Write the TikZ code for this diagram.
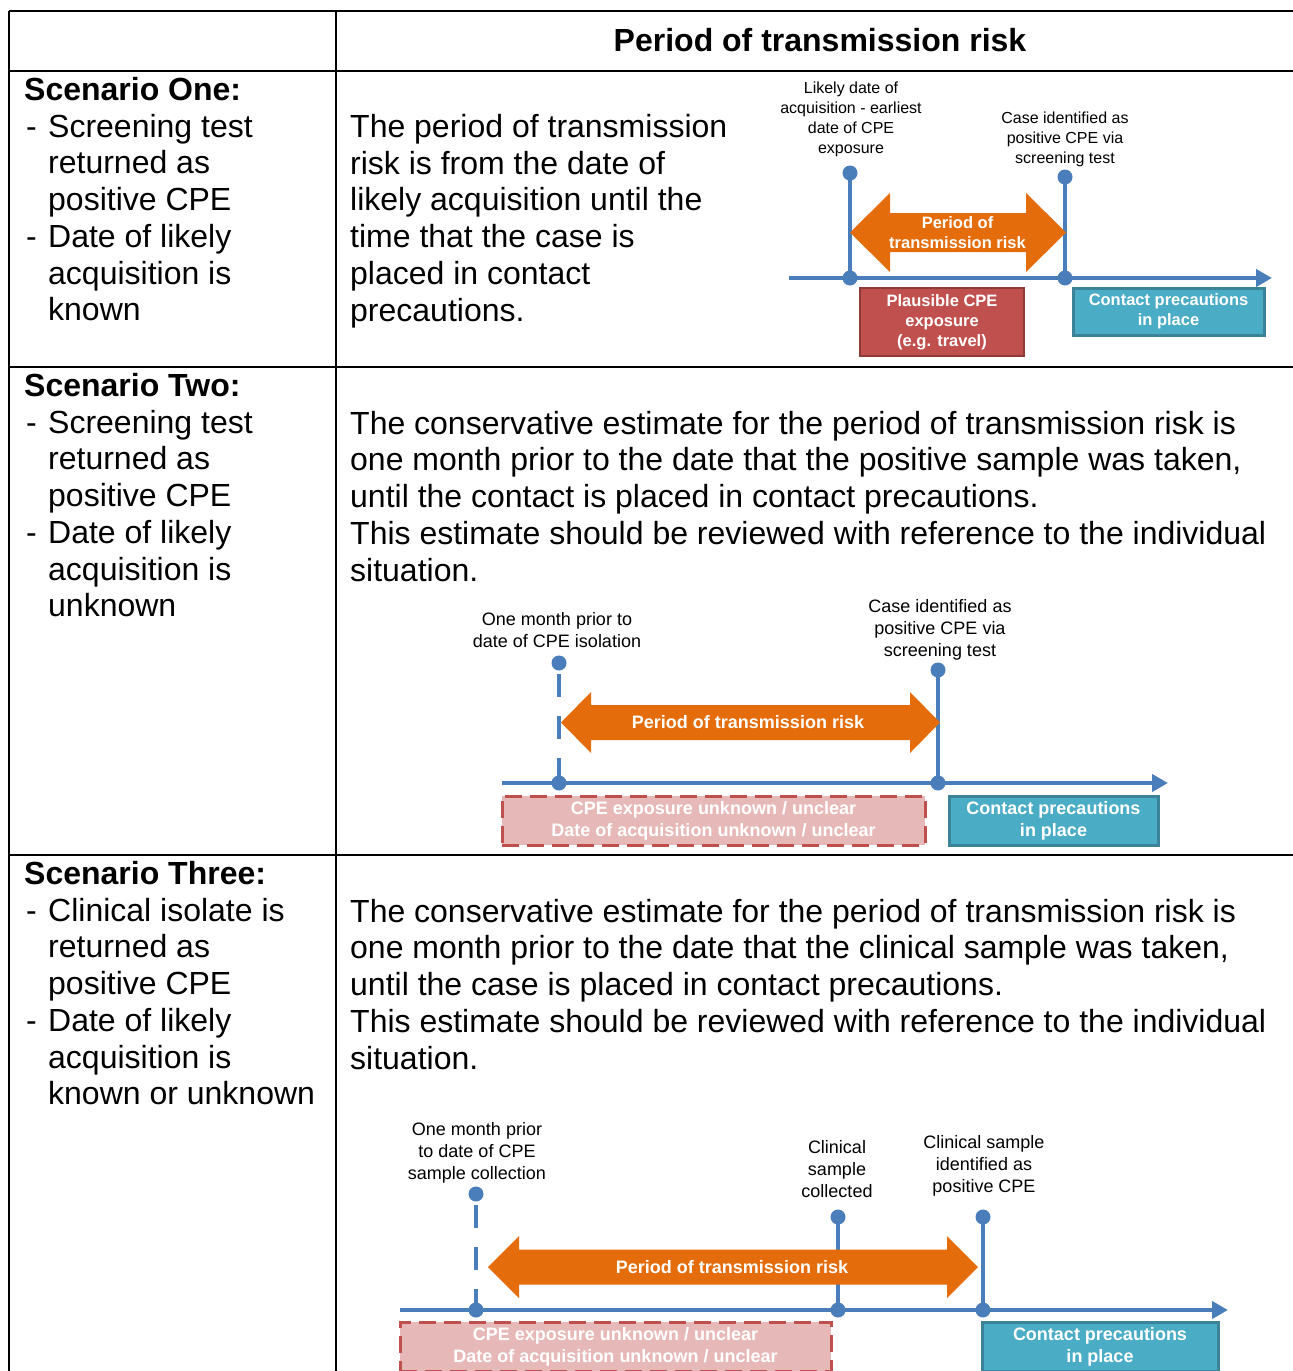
\documentclass[tikz,border=0pt]{standalone}
\usepackage{fontspec}
\setmainfont{Liberation Sans}
\usetikzlibrary{arrows.meta}
\definecolor{tl}{HTML}{4A7EBB}
\definecolor{orng}{HTML}{E46C0A}
\definecolor{redf}{HTML}{C0504D}
\definecolor{redd}{HTML}{8E3A37}
\definecolor{tealf}{HTML}{4BACC6}
\definecolor{teald}{HTML}{3A8399}
\definecolor{pinkf}{HTML}{E6B9B8}
\newcommand\dblarrow[6]{% x1 x2 yc headhalf shafthalf headlen
  \fill[orng] (#1,#3) -- (#1+#6,#3-#4) -- (#1+#6,#3-#5) -- (#2-#6,#3-#5) -- (#2-#6,#3-#4)
   -- (#2,#3) -- (#2-#6,#3+#4) -- (#2-#6,#3+#5) -- (#1+#6,#3+#5) -- (#1+#6,#3+#4) -- cycle;}
\begin{document}
\begin{tikzpicture}[x=1pt,y=-1pt,
 grid/.style={line width=2.5pt, draw=black},
 body/.style={font=\fontsize{32}{36.7}\selectfont, anchor=base west, inner sep=0pt},
 bodyb/.style={font=\fontsize{32}{36.7}\selectfont\bfseries, anchor=base west, inner sep=0pt},
 lblA/.style={font=\fontsize{16}{20}\selectfont, align=center, inner sep=0pt},
 lblB/.style={font=\fontsize{18}{22}\selectfont, align=center, inner sep=0pt},
 wA/.style={font=\fontsize{16.5}{20}\selectfont\bfseries, text=white, align=center, inner sep=0pt},
 wB/.style={font=\fontsize{18}{22}\selectfont\bfseries, text=white, align=center, inner sep=0pt},
 redbox/.style={draw=redd, fill=redf, line width=2.5pt, minimum width=164pt, minimum height=68pt},
 tealbox/.style={draw=teald, fill=tealf, line width=3pt},
 pinkbox/.style={draw=redf, fill=pinkf, line width=3pt, dash pattern=on 17pt off 8pt},
 axis/.style={line width=4.5pt, draw=tl, -{Triangle[length=16pt,width=17pt]}},
 tick/.style={line width=4pt, draw=tl},
 dtick/.style={line width=4pt, draw=tl, dash pattern=on 23pt off 19pt, dash phase=31pt},
 dot/.style={fill=tl}
]
\useasboundingbox (0,0) rectangle (1293,1371);
\fill[white] (0,0) rectangle (1293,1371);

% ---------- table grid ----------
\coordinate (gTL) at (9,11);   \coordinate (gTR) at (1293,11);
\coordinate (gH1L) at (9,71);  \coordinate (gH1R) at (1293,71);
\coordinate (gH2L) at (9,367); \coordinate (gH2R) at (1293,367);
\coordinate (gH3L) at (9,855); \coordinate (gH3R) at (1293,855);
\coordinate (gLB) at (9,1371); \coordinate (gCT) at (336,11); \coordinate (gCB) at (336,1371);
\draw[grid] (gTL) -- (gTR);
\draw[grid] (gH1L) -- (gH1R);
\draw[grid] (gH2L) -- (gH2R);
\draw[grid] (gH3L) -- (gH3R);
\draw[grid] (gTL) -- (gLB);
\draw[grid] (gCT) -- (gCB);

% ---------- header ----------
\node[bodyb, anchor=base] (hdr) at (820,51) {Period of transmission risk};

% ---------- left column ----------
\node[bodyb] (s1t) at (24,100.5) {Scenario One:};
\node[body] (s1d1) at (26,137.5) {-};
\node[body] (s1d2) at (26,247.6) {-};
\foreach \t [count=\i from 1] in {Screening test, returned as, positive CPE, Date of likely, acquisition is, known}
  \node[body] (s1l\i) at (48,100.5+36.7*\i) {\t};

\node[bodyb] (s2t) at (24,396.5) {Scenario Two:};
\node[body] (s2d1) at (26,433.2) {-};
\node[body] (s2d2) at (26,543.3) {-};
\foreach \t [count=\i from 1] in {Screening test, returned as, positive CPE, Date of likely, acquisition is, unknown}
  \node[body] (s2l\i) at (48,396.5+36.7*\i) {\t};

\node[bodyb] (s3t) at (24,884.5) {Scenario Three:};
\node[body] (s3d1) at (26,921.2) {-};
\node[body] (s3d2) at (26,1031.3) {-};
\foreach \t [count=\i from 1] in {Clinical isolate is, returned as, positive CPE, Date of likely, acquisition is, known or unknown}
  \node[body] (s3l\i) at (48,884.5+36.7*\i) {\t};

% ---------- right column texts ----------
\foreach \t [count=\i from 0] in {The period of transmission, risk is from the date of, likely acquisition until the, time that the case is, placed in contact, precautions.}
  \node[body] (s1r\i) at (350,137.5+36.7*\i) {\t};

\foreach \t [count=\i from 0] in {The conservative estimate for the period of transmission risk is, {one month prior to the date that the positive sample was taken,}, until the contact is placed in contact precautions., This estimate should be reviewed with reference to the individual, situation.}
  \node[body] (s2r\i) at (350,434+36.8*\i) {\t};

\foreach \t [count=\i from 0] in {The conservative estimate for the period of transmission risk is, {one month prior to the date that the clinical sample was taken,}, until the case is placed in contact precautions., This estimate should be reviewed with reference to the individual, situation.}
  \node[body] (s3r\i) at (350,922+36.8*\i) {\t};

% ---------- diagram 1 ----------
\coordinate (d1s) at (789,278); \coordinate (d1e) at (1272,278);
\coordinate (d1at) at (850,173); \coordinate (d1ab) at (850,278);
\coordinate (d1bt) at (1065,177); \coordinate (d1bb) at (1065,278);
\draw[axis] (d1s) -- (d1e);
\draw[tick] (d1at) -- (d1ab);
\draw[tick] (d1bt) -- (d1bb);
\dblarrow{850}{1066}{232.5}{39.5}{19.5}{40}
\node[wA] (d1r) at (957.5,232.5) {Period of\\transmission risk};
\foreach \c in {d1at,d1ab,d1bt,d1bb} \fill[dot] (\c) circle (7.5pt);
\node[lblA] (d1la) at (851,119) {Likely date of\\acquisition - earliest\\date of CPE\\exposure};
\node[lblA] (d1lb) at (1065,139) {Case identified as\\positive CPE via\\screening test};
\node[redbox, wA] (d1box1) at (942,322) {Plausible CPE\\exposure\\(e.g. travel)};
\node[tealbox, wA, minimum width=191pt, minimum height=47pt] (d1box2) at (1168.5,311.5) {Contact precautions\\in place};

% ---------- diagram 2 ----------
\coordinate (d2s) at (502,783); \coordinate (d2e) at (1168,783);
\coordinate (d2at) at (559,663); \coordinate (d2ab) at (559,783);
\coordinate (d2bt) at (938,670); \coordinate (d2bb) at (938,783);
\draw[axis] (d2s) -- (d2e);
\draw[dtick] (d2at) -- (d2ab);
\draw[tick] (d2bt) -- (d2bb);
\dblarrow{561}{940}{722.5}{30.5}{17.5}{30}
\node[wB] (d2r) at (748,722.5) {Period of transmission risk};
\foreach \c in {d2at,d2ab,d2bt,d2bb} \fill[dot] (\c) circle (7.5pt);
\node[lblB] (d2la) at (557,630) {One month prior to\\date of CPE isolation};
\node[lblB] (d2lb) at (940,630) {Case identified as\\positive CPE via\\screening test};
\node[pinkbox, wB, minimum width=423pt, minimum height=49pt] (d2box1) at (713.5,820.5) {CPE exposure unknown / unclear\\Date of acquisition unknown / unclear};
\node[tealbox, wB, minimum width=209pt, minimum height=49pt] (d2box2) at (1053.5,820.5) {Contact precautions\\in place};

% ---------- diagram 3 ----------
\coordinate (d3s) at (400,1310); \coordinate (d3e) at (1228,1310);
\coordinate (d3at) at (476,1194); \coordinate (d3ab) at (476,1310);
\coordinate (d3bt) at (838,1217); \coordinate (d3bb) at (838,1310);
\coordinate (d3ct) at (983,1217); \coordinate (d3cb) at (983,1310);
\draw[axis] (d3s) -- (d3e);
\draw[dtick] (d3at) -- (d3ab);
\draw[tick] (d3bt) -- (d3bb);
\draw[tick] (d3ct) -- (d3cb);
\dblarrow{488}{978}{1267}{31}{17.5}{31}
\node[wB] (d3r) at (732,1267.5) {Period of transmission risk};
\foreach \c in {d3at,d3ab,d3bt,d3bb,d3ct,d3cb} \fill[dot] (\c) circle (7.5pt);
\node[lblB] (d3la) at (477,1153) {One month prior\\to date of CPE\\sample collection};
\node[lblB] (d3lb) at (837,1169) {Clinical\\sample\\collected};
\node[lblB] (d3lc) at (984,1166) {Clinical sample\\identified as\\positive CPE};
\node[pinkbox, wB, minimum width=431pt, minimum height=49pt] (d3box1) at (615.5,1346.5) {CPE exposure unknown / unclear\\Date of acquisition unknown / unclear};
\node[tealbox, wB, minimum width=236pt, minimum height=49pt] (d3box2) at (1100,1346.5) {Contact precautions\\in place};
\end{tikzpicture}
\end{document}
